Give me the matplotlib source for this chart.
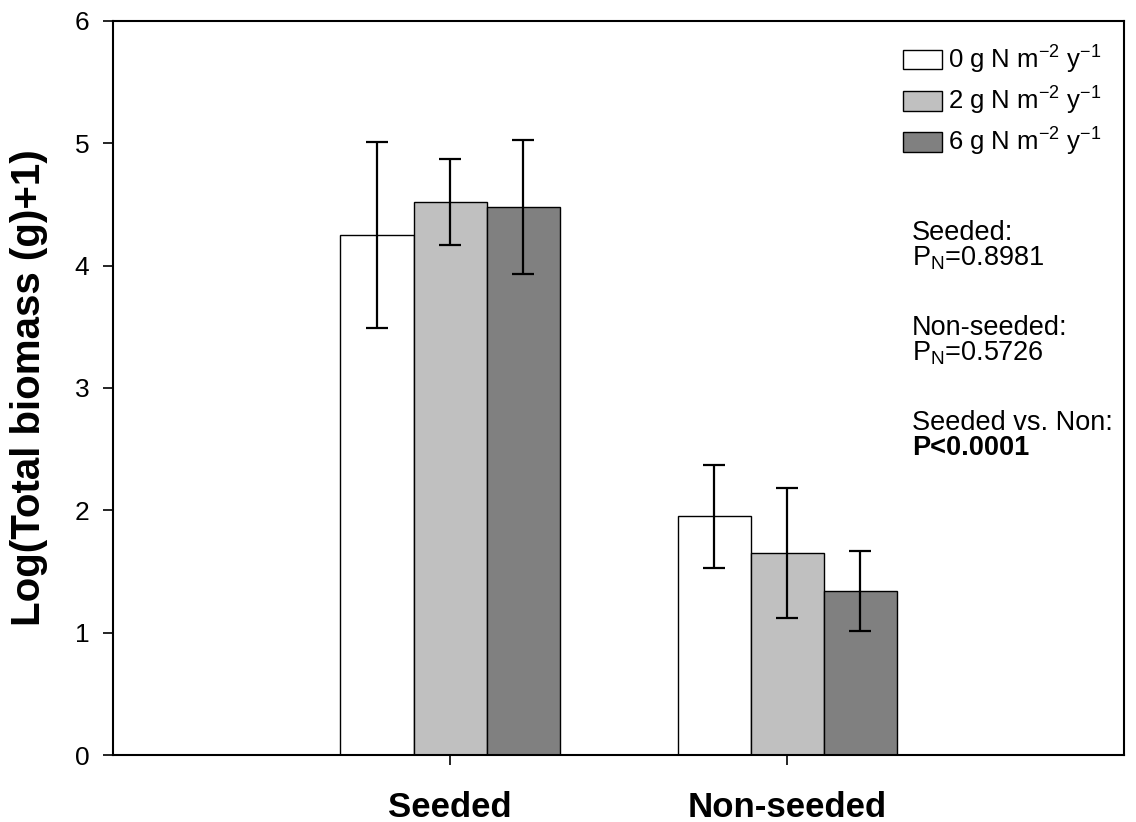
import numpy as np
import matplotlib
matplotlib.use("Agg")
import matplotlib.pyplot as plt

plt.rcParams['font.family'] = ['Liberation Sans', 'DejaVu Sans']
plt.rcParams['mathtext.fontset'] = 'custom'
plt.rcParams['mathtext.rm'] = 'Liberation Sans'
plt.rcParams['mathtext.it'] = 'Liberation Sans:italic'
plt.rcParams['mathtext.bf'] = 'Liberation Sans:bold'

# groups and nitrogen treatments
groups = ['Seeded', 'Non-seeded']
treatments = ['0 g N m$^{-2}$ y$^{-1}$', '2 g N m$^{-2}$ y$^{-1}$', '6 g N m$^{-2}$ y$^{-1}$']
colors = ['white', '#c0c0c0', '#808080']

# Log(total biomass + 1), mean and error per treatment (Seeded, Non-seeded)
n0_mean = [4.25, 1.95]
n2_mean = [4.52, 1.65]
n6_mean = [4.48, 1.34]
n0_err = [0.76, 0.42]
n2_err = [0.355, 0.53]
n6_err = [0.55, 0.325]

means = [n0_mean, n2_mean, n6_mean]
errs = [n0_err, n2_err, n6_err]

fig = plt.figure(figsize=(11.36, 8.22), dpi=100)
ax = fig.add_axes([0.0995, 0.0815, 0.89, 0.893])

x = np.arange(len(groups))
w = 0.2167
for i in range(3):
    ax.bar(x + (i - 1) * w, means[i], w, color=colors[i], edgecolor='black',
           linewidth=1.0, label=treatments[i], zorder=2)
    ax.errorbar(x + (i - 1) * w, means[i], yerr=errs[i], fmt='none', ecolor='black',
                elinewidth=1.6, capsize=8, capthick=1.6, zorder=3)

ax.set_xlim(-1, 2)
ax.set_ylim(0, 6)
ax.set_yticks(range(0, 7))
ax.set_xticks(x)
ax.set_xticklabels(groups, fontsize=25, fontweight='bold')
ax.tick_params(axis='y', labelsize=19, length=7, width=1.2, pad=10)
ax.tick_params(axis='x', length=7, width=1.2, pad=19)
for sp in ax.spines.values():
    sp.set_linewidth(1.5)

ax.set_ylabel('Log(Total biomass (g)+1)', fontsize=29, fontweight='bold', labelpad=19)

ax.legend(loc='upper left', bbox_to_anchor=(0.781, 0.969), frameon=False,
          fontsize=18.5, handlelength=1.55, handleheight=0.8, handletextpad=0.2,
          labelspacing=0.35, borderpad=0, borderaxespad=0)

# statistics notes
notes = [
    (4.27, 'Seeded:', 'normal'),
    (4.06, 'P$_\\mathrm{N}$=0.8981', 'normal'),
    (3.49, 'Non-seeded:', 'normal'),
    (3.28, 'P$_\\mathrm{N}$=0.5726', 'normal'),
    (2.71, 'Seeded vs. Non:', 'normal'),
    (2.51, 'P<0.0001', 'bold'),
]
for yy, txt, wt in notes:
    ax.text(1.37, yy, txt, fontsize=19.5, fontweight=wt, va='center', ha='left')

fig.savefig('out.png', dpi=100)
